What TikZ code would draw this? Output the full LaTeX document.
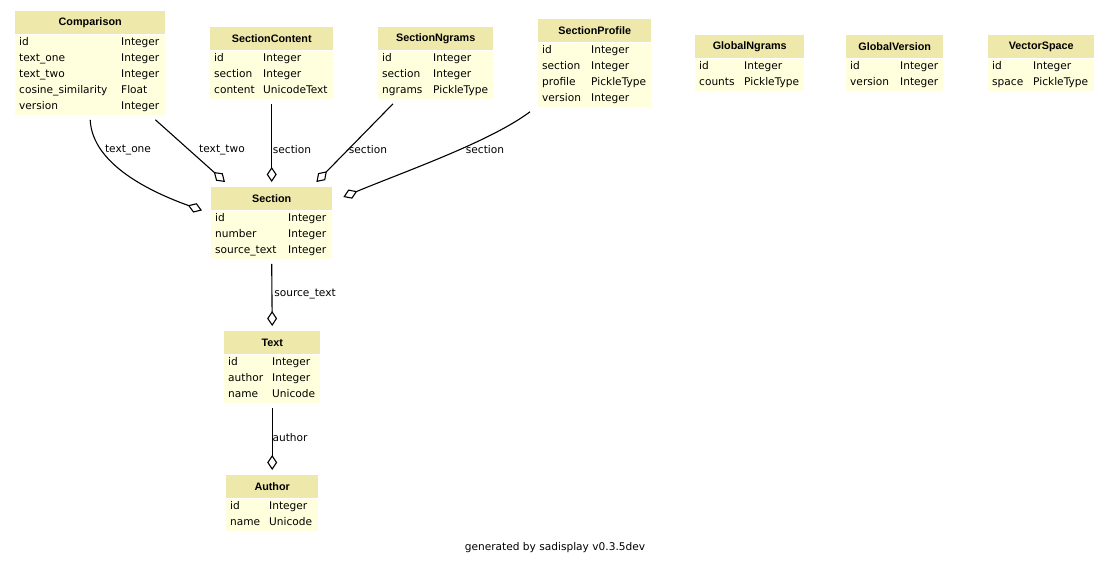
\documentclass[tikz,border=0pt]{standalone}
\usepackage{fontspec}
\setmainfont{DejaVu Sans}
\newfontfamily\hdrfamily{Liberation Sans}
\usetikzlibrary{arrows.meta,positioning,calc}
\definecolor{hdrcol}{RGB}{238,232,170}
\definecolor{bodycol}{RGB}{255,255,221}
\newcommand{\bfnt}{\fontsize{10.6}{16}\selectfont}
\newcommand{\hfnt}{\hdrfamily\bfseries\fontsize{10.8}{12}\selectfont}
\newcommand{\rows}[2]{\begin{tabular}{@{}p{#1}@{}l@{}}#2\end{tabular}}
\begin{document}
\begin{tikzpicture}[x=1pt,y=-1pt,
  hdr/.style={anchor=north west, fill=hdrcol, minimum height=23pt, inner sep=0pt, font=\hfnt},
  tbody/.style={anchor=north west, fill=bodycol, inner xsep=4pt, inner ysep=0pt, font=\bfnt, align=left},
  rel/.style={draw=black, line width=1.1pt, -{Diamond[open,length=15pt,width=10pt,line width=1.1pt]}},
  lbl/.style={font=\bfnt, inner sep=0pt}
]
\useasboundingbox (0,0) rectangle (1109,565);
\fill[white] (0,0) rectangle (1109,565);

% Comparison
\node[hdr, minimum width=150pt] (cmp-h) at (15,11) {Comparison};
\node[tbody, text width=142pt] (cmp-b) at (cmp-h.south west) {\rows{102pt}{id & Integer\\ text\_one & Integer\\ text\_two & Integer\\ cosine\_similarity & Float\\ version & Integer}};

% SectionContent
\node[hdr, minimum width=123pt] (sc-h) at (210,27) {SectionContent};
\node[tbody, text width=115pt] (sc-b) at (sc-h.south west) {\rows{49pt}{id & Integer\\ section & Integer\\ content & UnicodeText}};

% SectionNgrams
\node[hdr, minimum width=115pt] (sn-h) at (378,27) {SectionNgrams};
\node[tbody, text width=107pt] (sn-b) at (sn-h.south west) {\rows{51pt}{id & Integer\\ section & Integer\\ ngrams & PickleType}};

% SectionProfile
\node[hdr, minimum width=113pt] (sp-h) at (538,19) {SectionProfile};
\node[tbody, text width=105pt] (sp-b) at (sp-h.south west) {\rows{49pt}{id & Integer\\ section & Integer\\ profile & PickleType\\ version & Integer}};

% GlobalNgrams
\node[hdr, minimum width=109pt] (gn-h) at (695,35) {GlobalNgrams};
\node[tbody, text width=101pt] (gn-b) at (gn-h.south west) {\rows{45pt}{id & Integer\\ counts & PickleType}};

% GlobalVersion
\node[hdr, minimum width=97pt] (gv-h) at (846,35) {GlobalVersion};
\node[tbody, text width=89pt] (gv-b) at (gv-h.south west) {\rows{50pt}{id & Integer\\ version & Integer}};

% VectorSpace
\node[hdr, minimum width=106pt] (vs-h) at (988,35) {VectorSpace};
\node[tbody, text width=98pt] (vs-b) at (vs-h.south west) {\rows{41pt}{id & Integer\\ space & PickleType}};

% Section
\node[hdr, minimum width=121pt] (sec-h) at (211,187) {Section};
\node[tbody, text width=113pt] (sec-b) at (sec-h.south west) {\rows{73pt}{id & Integer\\ number & Integer\\ source\_text & Integer}};

% Text
\node[hdr, minimum width=96pt] (txt-h) at (224,331) {Text};
\node[tbody, text width=88pt] (txt-b) at (txt-h.south west) {\rows{44pt}{id & Integer\\ author & Integer\\ name & Unicode}};

% Author
\node[hdr, minimum width=92pt] (aut-h) at (226,475) {Author};
\node[tbody, text width=84pt] (aut-b) at (aut-h.south west) {\rows{39pt}{id & Integer\\ name & Unicode}};

% connectors
\draw[rel] ([yshift=-5pt]cmp-b.south) .. controls +(2,45) and +(-50,-18) .. ([xshift=-9pt]sec-h.south west);
\draw[rel] ([xshift=-10pt,yshift=-5pt]cmp-b.south east) -- ([xshift=14pt,yshift=5pt]sec-h.north west);
\draw[rel] ([yshift=-5pt]sc-b.south) -- ([yshift=5pt]sec-h.north);
\draw[rel] ([xshift=15pt,yshift=-5pt]sn-b.south west) -- ([xshift=-16pt,yshift=5pt]sec-h.north east);
\draw[rel] ([xshift=-8pt,yshift=-5pt]sp-b.south west) .. controls +(-40,30) and +(60,-25) .. ([xshift=11pt,yshift=-10pt]sec-h.north east);
\draw[rel] ([yshift=-5pt]sec-b.south) -- ([yshift=5pt]txt-h.north);
\draw[rel] ([yshift=-5pt]txt-b.south) -- ([yshift=5pt]aut-h.north);

% labels
\node[lbl] (l1) at (128,150) {text\_one};
\node[lbl] (l2) at (222,150) {text\_two};
\node[lbl] (l3) at (292,150) {section};
\node[lbl] (l4) at (368,150) {section};
\node[lbl] (l5) at (485,150) {section};
\node[lbl] (l6) at (305,294) {source\_text};
\node[lbl] (l7) at (290,438) {author};

\node[lbl] (foot) at (555,548) {generated by sadisplay v0.3.5dev};
\end{tikzpicture}
\end{document}
